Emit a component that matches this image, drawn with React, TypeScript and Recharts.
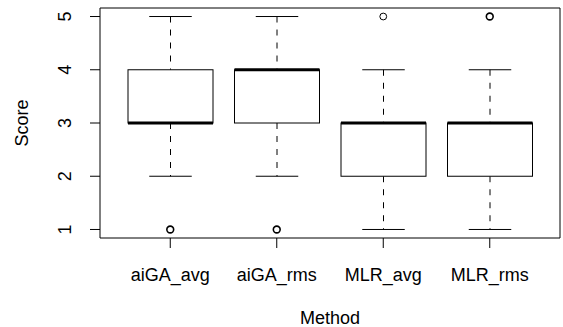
import React from 'react';
import { ComposedChart, Bar, Scatter, XAxis, YAxis } from 'recharts';

const methods = ['aiGA_avg', 'aiGA_rms', 'MLR_avg', 'MLR_rms'];
const lowerWhisker = [2, 2, 1, 1];
const lowerQuartile = [3, 3, 2, 2];
const medians = [3, 4, 3, 3];
const upperQuartile = [4, 4, 3, 3];
const upperWhisker = [5, 5, 4, 4];
const outlierValue = [1, 1, 5, 5];
const outlierCount = [2, 2, 1, 3];
const yTicks = [1, 2, 3, 4, 5];

const data = methods.map((m, i) => ({
  method: m,
  lo: lowerWhisker[i],
  q1: lowerQuartile[i],
  med: medians[i],
  q3: upperQuartile[i],
  hi: upperWhisker[i],
  outlier: outlierValue[i],
  count: outlierCount[i],
}));

const FONT = '"Liberation Sans", Arial, Helvetica, sans-serif';
const FS = 18;

function BoxShape(props: any) {
  const { x, y, width, height, payload } = props;
  if (!payload || !Number.isFinite(y)) return null;
  const unit = height / (payload.q3 - payload.q1);
  const yOf = (v: number) => y + (payload.q3 - v) * unit;
  const cx = x + width / 2;
  const cap = width / 4;
  return (
    <g>
      <line x1={cx} x2={cx} y1={yOf(payload.hi)} y2={y} stroke="#000" strokeDasharray="6 7" />
      <line x1={cx} x2={cx} y1={y + height} y2={yOf(payload.lo)} stroke="#000" strokeDasharray="6 7" />
      <line x1={cx - cap} x2={cx + cap} y1={yOf(payload.hi)} y2={yOf(payload.hi)} stroke="#000" />
      <line x1={cx - cap} x2={cx + cap} y1={yOf(payload.lo)} y2={yOf(payload.lo)} stroke="#000" />
      <rect x={x} y={y} width={width} height={height} fill="#fff" stroke="#000" />
      <line x1={x} x2={x + width} y1={yOf(payload.med)} y2={yOf(payload.med)} stroke="#000" strokeWidth={3} />
    </g>
  );
}

function OutlierShape(props: any) {
  const { cx, cy, payload } = props;
  if (!Number.isFinite(cx) || !Number.isFinite(cy)) return null;
  return (
    <circle cx={cx} cy={cy} r={3.4} fill="none" stroke="#000" strokeWidth={payload.count > 1 ? 1.6 : 1} />
  );
}

function YTick(props: any) {
  const { x, y, payload } = props;
  const bx = x - 17;
  return (
    <text x={bx} y={y} transform={`rotate(-90, ${bx}, ${y})`} textAnchor="middle"
      fontFamily={FONT} fontSize={FS} fill="#000">
      {payload.value}
    </text>
  );
}

function XTick(props: any) {
  const { x, payload } = props;
  return (
    <text x={x} y={281} textAnchor="middle" fontFamily={FONT} fontSize={FS} fill="#000">
      {payload.value}
    </text>
  );
}

function ScoreLabel(props: any) {
  const vb = props.viewBox || { x: 0, y: 8, width: 100, height: 230 };
  const cy = vb.y + vb.height / 2;
  return (
    <text x={28} y={cy} transform={`rotate(-90, 28, ${cy})`} textAnchor="middle"
      fontFamily={FONT} fontSize={FS} fill="#000">
      Score
    </text>
  );
}

function MethodLabel(props: any) {
  const vb = props.viewBox || { x: 100, y: 238, width: 460, height: 89 };
  return (
    <text x={vb.x + vb.width / 2} y={324} textAnchor="middle" fontFamily={FONT} fontSize={FS} fill="#000">
      Method
    </text>
  );
}

export default function App() {
  return (
    <div style={{ position: 'absolute', left: 0, top: 0, width: 563, height: 327, background: '#fff' }}>
      <ComposedChart width={563} height={327} data={data} margin={{ top: 7, right: 2, bottom: 0, left: 0 }}>
        <XAxis
          dataKey="method"
          height={89}
          padding={{ left: 17, right: 17 }}
          tick={<XTick />}
          tickSize={10}
          tickLine={{ stroke: '#000' }}
          axisLine={{ stroke: '#000' }}
          interval={0}
          label={<MethodLabel />}
        />
        <XAxis xAxisId="top" dataKey="method" orientation="top" height={1} tick={false} tickLine={false}
          axisLine={{ stroke: '#000' }} />
        <YAxis
          type="number"
          domain={[0.84, 5.16]}
          ticks={yTicks}
          allowDataOverflow
          width={100}
          tick={<YTick />}
          tickSize={10}
          tickLine={{ stroke: '#000' }}
          axisLine={{ stroke: '#000' }}
          label={<ScoreLabel />}
        />
        <YAxis yAxisId="right" orientation="right" width={1} tick={false} tickLine={false}
          axisLine={{ stroke: '#000' }} domain={[0.84, 5.16]} />
        <Bar dataKey={(d: any) => [d.q1, d.q3]} barSize={85} shape={<BoxShape />} isAnimationActive={false} />
        <Scatter dataKey="outlier" shape={<OutlierShape />} isAnimationActive={false} />
      </ComposedChart>
    </div>
  );
}
